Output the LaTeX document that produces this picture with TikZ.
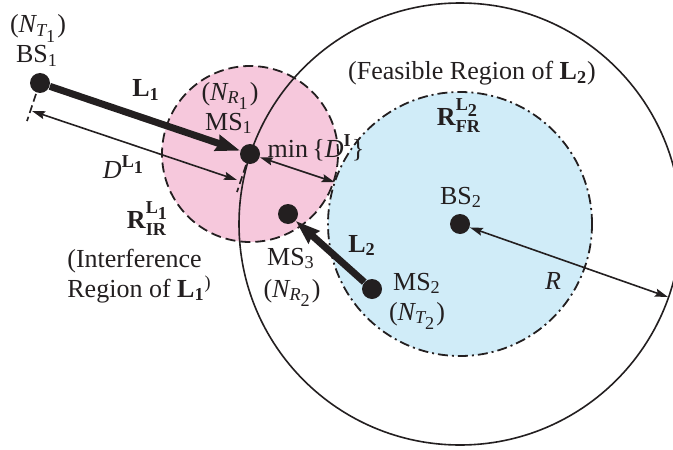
\documentclass[tikz,border=0pt]{standalone}
\usepackage{fontspec}
\setmainfont{Liberation Serif}
\usepackage{amsmath}
\usetikzlibrary{arrows.meta,backgrounds,calc,positioning}
\definecolor{ink}{HTML}{231F20}
\definecolor{irpink}{RGB}{246,200,220}
\definecolor{frblue}{RGB}{208,236,248}

\tikzset{
  terminal/.style={circle,fill=ink,inner sep=0pt,minimum size=10pt},
  lbl/.style={anchor=base,inner sep=0pt,text=ink},
  link/.style={draw=ink,line width=3.5pt,-{Stealth[length=12pt,width=8pt,inset=1pt]}},
  measure/.style={draw=ink,line width=0.8pt,
    {Stealth[length=6.5pt,width=4pt,inset=1pt]}-{Stealth[length=6.5pt,width=4pt,inset=1pt]}},
  extline/.style={draw=ink,line width=0.8pt,dash pattern=on 4pt off 2pt},
}

\begin{document}
\begin{tikzpicture}[x=0.5pt,y=-0.5pt,font=\fontsize{13}{15}\selectfont]
    \useasboundingbox (0,0) rectangle (673,449);

    % Terminals
    \node[terminal] (bs1) at (40,83) {};
    \node[terminal] (ms1) at (250,154) {};
    \node[terminal] (ms3) at (288,214) {};
    \node[terminal] (ms2) at (372,289) {};
    \node[terminal] (bs2) at (460,224) {};

    % Regions
    \begin{scope}[on background layer]
        \fill[irpink] (ms1.center) circle[radius=44pt];
        \fill[frblue] (bs2.center) circle[radius=66pt];
        \draw[ink,line width=0.9pt,dash pattern=on 5pt off 2.5pt] (ms1.center) circle[radius=44pt];
        \draw[ink,line width=0.9pt,dash pattern=on 5pt off 2pt on 1pt off 2pt] (bs2.center) circle[radius=66pt];
        \draw[ink,line width=0.8pt] (bs2.center) circle[radius=110.5pt];
    \end{scope}

    % Helper points
    \coordinate (ext1a) at (36,94);
    \coordinate (ext1b) at (27,121);
    \coordinate (ext2a) at (246,165);
    \coordinate (ext2b) at (237,192);
    \coordinate (dima) at (32,111);
    \coordinate (dimb) at (237,180);
    \coordinate (frrim) at ($(bs2)!66pt!(ms1)$);
    \coordinate (outrim) at (668,297);

    % Labels
    \node[lbl] (nt1) at (38,33) {($\textit{N}_{\textit{T}_{\scriptstyle\text{1}}}$)};
    \node[lbl] (bs1l) at (37,63) {BS$_{\text{1}}$};
    \node[lbl] (l1) at (146,97) {$\textbf{L}_{\textbf{1}}$};
    \node[lbl] (nr1) at (230,100) {($\textit{N}_{\textit{R}_{\scriptstyle\text{1}}}$)};
    \node[lbl] (ms1l) at (229,130) {MS$_{\text{1}}$};
    \node[lbl] (mind) at (316,157) {min\,\{$\textit{D}^{\textbf{I}}$\}};
    \node[lbl] (dl1) at (124,178) {$\textit{D}^{\textbf{L}_{\scriptstyle\textbf{1}}}$};
    \node[lbl] (rir) at (148,228) {$\textbf{R}^{\textbf{L}_{\scriptstyle\textbf{1}}}_{\textbf{IR}}$};
    \node[lbl,anchor=base west] (irtxt) at (67,267) {(Interference};
    \node[lbl,anchor=base west] (irtxt2) at (67,297) {Region of $\textbf{L}_{\textbf{1}}$\textsuperscript{)}};
    \node[lbl] (frtxt) at (472,80) {(Feasible Region of $\textbf{L}_{\textbf{2}}$)};
    \node[lbl] (rfr) at (459,125) {$\textbf{R}^{\textbf{L}_{\scriptstyle\textbf{2}}}_{\textbf{FR}}$};
    \node[lbl] (bs2l) at (461,204) {BS$_{\text{2}}$};
    \node[lbl] (l2) at (362,252) {$\textbf{L}_{\textbf{2}}$};
    \node[lbl] (ms3l) at (291,265) {MS$_{\text{3}}$};
    \node[lbl] (nr2) at (292,297) {($\textit{N}_{\textit{R}_{\scriptstyle\text{2}}}$)};
    \node[lbl] (ms2l) at (417,290) {MS$_{\text{2}}$};
    \node[lbl] (nt2) at (417,320) {($\textit{N}_{\textit{T}_{\scriptstyle\text{2}}}$)};
    \node[lbl] (rlbl) at (553,289) {\textit{R}};

    % Links and measures
    \draw[link] (bs1) -- (ms1);
    \draw[link] (ms2) -- (ms3);
    \draw[extline] (ext1a) -- (ext1b);
    \draw[extline] (ext2a) -- (ext2b);
    \draw[measure] (dima) -- (dimb);
    \draw[measure] (ms1) -- (frrim);
    \draw[measure] (bs2) -- (outrim);
\end{tikzpicture}
\end{document}
